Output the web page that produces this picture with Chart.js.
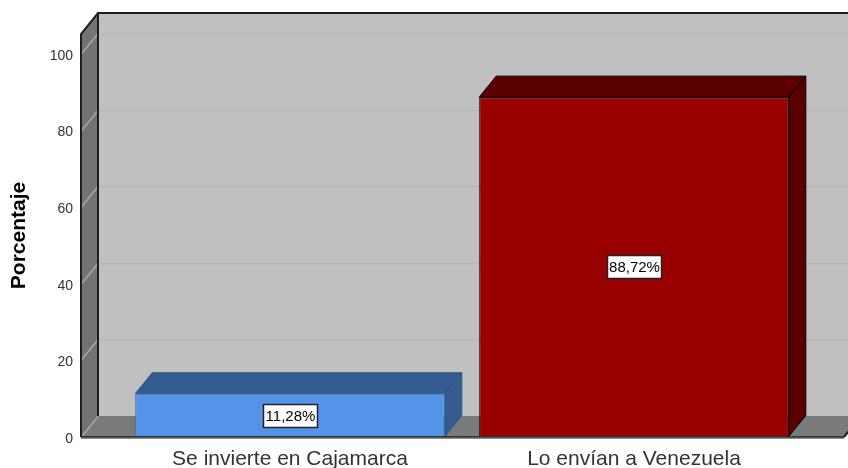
<!DOCTYPE html>
<html><head><meta charset="utf-8">
<style>html,body{margin:0;padding:0;background:#fff}#w{width:848px;height:468px;position:relative}</style>
<script src="https://cdn.jsdelivr.net/npm/chart.js@4"></script>
</head><body><div id="w"><canvas id="c"></canvas></div>
<script>
const categories = ['Se invierte en Cajamarca', 'Lo envían a Venezuela'];
const percentages = [11.28, 88.72];
const pointLabels = ['11,28%', '88,72%'];
const frontColors = ['#5394E8', '#990000'];
const topColors = ['#355C8F', '#5A0000'];
const edgeColors = ['#3F6FA8', '#000000'];
const topEdgeColors = ['#2F5480', '#000000'];
const axisTitle = 'Porcentaje';
const DX = 17, DY = -21, LEFT = 81, RIGHT = 844;
const FONT = '"Liberation Sans", Arial, sans-serif';

function poly(ctx, pts, fill, stroke) {
  ctx.beginPath();
  pts.forEach((p, i) => i ? ctx.lineTo(p[0], p[1]) : ctx.moveTo(p[0], p[1]));
  ctx.closePath();
  if (fill) { ctx.fillStyle = fill; ctx.fill(); }
  if (stroke) { ctx.strokeStyle = stroke; ctx.stroke(); }
}
const box3d = {
  id: 'box3d',
  beforeDatasetsDraw(chart) {
    const {ctx, chartArea: a, scales: {y}} = chart;
    const b = a.bottom, t = a.top;
    ctx.save();
    ctx.lineWidth = 1;
    poly(ctx, [[LEFT + DX, t + DY], [848, t + DY], [848, b + DY], [LEFT + DX, b + DY]], '#C0C0C0');
    poly(ctx, [[LEFT, t], [LEFT + DX, t + DY], [LEFT + DX, b + DY], [LEFT, b]], '#737373');
    poly(ctx, [[LEFT, b], [LEFT + DX, b + DY], [RIGHT + DX, b + DY], [RIGHT, b]], '#7A7A7A');
    y.ticks.forEach(tk => {
      const py = Math.round(y.getPixelForValue(tk.value)) + 0.5;
      if (tk.value > 0) {
        ctx.strokeStyle = '#B7B7B7'; ctx.lineWidth = 2;
        ctx.beginPath(); ctx.moveTo(LEFT + DX, py + DY); ctx.lineTo(848, py + DY); ctx.stroke();
      }
      ctx.strokeStyle = '#A8A8A8'; ctx.lineWidth = 1.5;
      ctx.beginPath(); ctx.moveTo(LEFT, py); ctx.lineTo(LEFT + DX, py + DY); ctx.stroke();
    });
    ctx.strokeStyle = '#1E1E1E'; ctx.lineWidth = 2;
    ctx.beginPath();
    ctx.moveTo(LEFT, b); ctx.lineTo(LEFT, t); ctx.lineTo(LEFT + DX, t + DY); ctx.lineTo(848, t + DY);
    ctx.moveTo(LEFT + DX, t + DY); ctx.lineTo(LEFT + DX, b + DY);
    ctx.moveTo(RIGHT, b); ctx.lineTo(RIGHT + DX, b + DY);
    ctx.stroke();
    ctx.lineWidth = 1;
    chart.getDatasetMeta(0).data.forEach((bar, i) => {
      const l = bar.x - bar.width / 2, r = bar.x + bar.width / 2, tp = bar.y, bt = bar.base;
      poly(ctx, [[l, tp], [l + DX, tp + DY], [r + DX, tp + DY], [r, tp]], topColors[i], topEdgeColors[i]);
      poly(ctx, [[r, tp], [r + DX, tp + DY], [r + DX, bt + DY], [r, bt]], topColors[i], topEdgeColors[i]);
    });
    ctx.restore();
  },
  afterDatasetsDraw(chart) {
    const {ctx, chartArea: a} = chart;
    ctx.save();
    const b = Math.round(a.bottom);
    ctx.strokeStyle = '#1E1E1E'; ctx.lineWidth = 1.5;
    ctx.beginPath(); ctx.moveTo(LEFT, b); ctx.lineTo(RIGHT, b); ctx.stroke();
    ctx.strokeStyle = '#8C8C8C'; ctx.lineWidth = 1;
    ctx.beginPath(); ctx.moveTo(LEFT, b + 1.5); ctx.lineTo(RIGHT, b + 1.5); ctx.stroke();
    ctx.font = '15px ' + FONT;
    ctx.textAlign = 'center'; ctx.textBaseline = 'middle';
    chart.getDatasetMeta(0).data.forEach((bar, i) => {
      const cy = (bar.y + bar.base) / 2, w = 54, h = 23;
      const x0 = Math.round(bar.x - w / 2) + 0.5, y0 = Math.round(cy - h / 2) + 0.5;
      ctx.fillStyle = '#fff'; ctx.strokeStyle = '#222'; ctx.lineWidth = 1.5;
      ctx.fillRect(x0, y0, w, h); ctx.strokeRect(x0, y0, w, h);
      ctx.fillStyle = '#000';
      ctx.fillText(pointLabels[i], x0 + w / 2, y0 + h / 2 + 0.5);
    });
    ctx.restore();
  }
};
new Chart(document.getElementById('c'), {
  type: 'bar',
  data: { labels: categories, datasets: [{
    data: percentages, backgroundColor: frontColors, borderColor: edgeColors,
    borderWidth: 1, barPercentage: 0.9, categoryPercentage: 1 }] },
  options: {
    responsive: true, maintainAspectRatio: false, animation: false,
    layout: { padding: { top: 34, right: 42, bottom: 0, left: 0 } },
    plugins: { legend: { display: false }, tooltip: { enabled: false } },
    scales: {
      x: { grid: { display: false }, border: { display: false },
        afterFit(s) { s.height = 31; s.paddingLeft = 0; s.paddingRight = 0; },
        ticks: { color: '#333333', font: { size: 21, family: FONT }, padding: 2, maxRotation: 0 } },
      y: { min: 0, max: 105.2, border: { display: false },
        grid: { display: true, drawOnChartArea: false, color: 'rgba(0,0,0,0)', tickLength: 45 },
        afterFit(s) { s.width = 118; s.paddingTop = 0; s.paddingBottom = 0; },
        title: { display: true, text: axisTitle, color: '#000', font: { size: 21, weight: 'bold', family: FONT }, padding: { top: 7, bottom: 0 } },
        ticks: { stepSize: 20, includeBounds: false, color: '#333333', font: { size: 14, family: FONT }, padding: 0, labelOffset: 2 } }
    }
  },
  plugins: [box3d]
});
</script></body></html>
